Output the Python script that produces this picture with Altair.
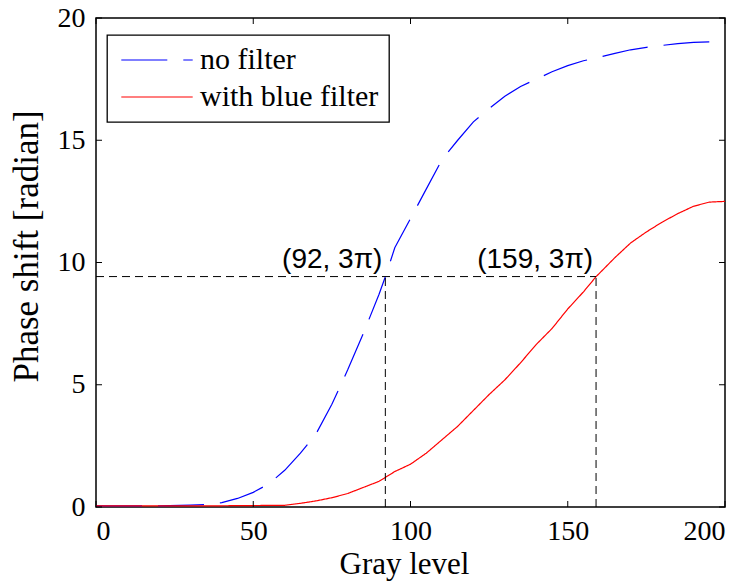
import math
import altair as alt
import pandas as pd

# ---- data ----
blue_g = [0, 10, 20, 30, 35, 40, 45, 50, 55, 60, 65, 70, 75, 80, 85, 90, 92, 95,
          100, 105, 110, 115, 120, 125, 130, 135, 140, 145, 150, 155, 160, 165,
          170, 175, 180, 185, 190, 195]
blue_v = [0.05, 0.05, 0.05, 0.08, 0.1, 0.18, 0.35, 0.6, 0.95, 1.5, 2.2, 3.0, 4.2,
          5.6, 7.1, 8.7, 9.42, 10.6, 11.8, 13.0, 14.2, 15.0, 15.75, 16.3, 16.8,
          17.2, 17.5, 17.8, 18.05, 18.25, 18.4, 18.55, 18.7, 18.8, 18.88, 18.95,
          19.0, 19.02]
red_g = [0, 20, 40, 60, 65, 70, 75, 80, 85, 90, 95, 100, 105, 110, 115, 120, 125,
         130, 135, 140, 145, 150, 155, 159, 165, 170, 175, 180, 185, 190, 195, 200]
red_v = [0.05, 0.05, 0.05, 0.07, 0.15, 0.25, 0.38, 0.55, 0.8, 1.05, 1.45, 1.75,
         2.2, 2.75, 3.3, 3.95, 4.6, 5.2, 5.9, 6.65, 7.3, 8.1, 8.8, 9.42, 10.2,
         10.8, 11.25, 11.65, 12.0, 12.3, 12.47, 12.5]
series_names = ["no filter", "with blue filter"]
series_colors = ["#0000ff", "#ff0000"]

mark_g = [92, 159]
mark_labels = ["(92, 3π)", "(159, 3π)"]
mark_v = 3 * math.pi

x_ticks = [0, 50, 100, 150, 200]
y_ticks = [0, 5, 10, 15, 20]

W, H = 629, 489
SERIF = "Liberation Serif, Times New Roman, serif"

df = pd.DataFrame({
    "g": blue_g + red_g,
    "v": blue_v + red_v,
    "series": [series_names[0]] * len(blue_g) + [series_names[1]] * len(red_g),
})
df_mark = pd.DataFrame({"g": mark_g, "label": mark_labels, "v": [mark_v] * len(mark_g), "v0": [0] * len(mark_g)})
df_h = pd.DataFrame({"g0": [0], "g1": [max(mark_g)], "v": [mark_v]})
df_xt = pd.DataFrame({"t": x_ticks})
df_yt = pd.DataFrame({"t": y_ticks})

xs = alt.Scale(domain=[0, 200], nice=False, zero=False)
ys = alt.Scale(domain=[0, 20], nice=False, zero=False)

x_axis = alt.Axis(values=x_ticks, ticks=False, domain=False, grid=False,
                  labelFont=SERIF, labelFontSize=28, labelColor="black", labelPadding=10,
                  title="Gray level", titleFont=SERIF, titleFontSize=31, titleColor="black",
                  titleBaseline="alphabetic", titleY=66, titleX=308, titleFontWeight="normal")
y_axis = alt.Axis(values=y_ticks, ticks=False, domain=False, grid=False,
                  labelFont=SERIF, labelFontSize=28, labelColor="black", labelPadding=11,
                  title="Phase shift [radian]", titleFont=SERIF, titleFontSize=35, titleColor="black",
                  titleBaseline="alphabetic", titleX=-59, titleY=228, titleAngle=270,
                  titleAlign="center", titleFontWeight="normal")


def X(field):
    return alt.X(field, scale=xs, axis=x_axis, title="Gray level")


def Y(field):
    return alt.Y(field, scale=ys, axis=y_axis, title="Phase shift [radian]")


leg = alt.Legend(title=None, orient="none", legendX=11, legendY=17,
                 symbolType="M-2.55,0H2.55", symbolSize=784, symbolStrokeWidth=1.2,
                 symbolOffset=25, labelOffset=28,
                 labelFont=SERIF, labelFontSize=30, labelColor="black",
                 rowPadding=7, padding=10, labelLimit=500,
                 strokeColor="black", fillColor="white")

lines = alt.Chart(df).mark_line(strokeWidth=1.2).encode(
    x=X("g:Q"),
    y=Y("v:Q"),
    color=alt.Color("series:N", scale=alt.Scale(domain=series_names, range=series_colors), legend=leg),
    strokeDash=alt.StrokeDash("series:N", scale=alt.Scale(domain=series_names, range=[[46, 16], [1, 0]]), legend=leg),
)

hline = alt.Chart(df_h).mark_rule(color="black", strokeWidth=1, strokeDash=[8, 5]).encode(
    x=X("g0:Q"), x2="g1:Q", y=Y("v:Q"))
vlines = alt.Chart(df_mark).mark_rule(color="black", strokeWidth=1, strokeDash=[8, 5]).encode(
    x=X("g:Q"), y=Y("v0:Q"), y2="v:Q")
labels = alt.Chart(df_mark).mark_text(font="Liberation Sans", fontSize=28, align="right",
                                      baseline="alphabetic", dx=-3, dy=-9, color="black").encode(
    x=X("g:Q"), y=Y("v:Q"), text="label:N")

tick_len = 6
xt_bottom = alt.Chart(df_xt).mark_rule(color="black", strokeWidth=1).encode(
    x=X("t:Q"), y=alt.value(H), y2=alt.value(H - tick_len))
xt_top = alt.Chart(df_xt).mark_rule(color="black", strokeWidth=1).encode(
    x=X("t:Q"), y=alt.value(0), y2=alt.value(tick_len))
yt_left = alt.Chart(df_yt).mark_rule(color="black", strokeWidth=1).encode(
    y=Y("t:Q"), x=alt.value(0), x2=alt.value(tick_len))
yt_right = alt.Chart(df_yt).mark_rule(color="black", strokeWidth=1).encode(
    y=Y("t:Q"), x=alt.value(W), x2=alt.value(W - tick_len))

chart = alt.layer(lines, hline, vlines, labels, xt_bottom, xt_top, yt_left, yt_right).properties(
    width=W, height=H,
    autosize=alt.AutoSizeParams(type="none"),
    padding={"left": 96, "top": 18, "right": 30, "bottom": 78},
    background="white",
).configure_view(
    stroke="black", strokeWidth=1.5
).configure_axis(
    labelFont=SERIF, titleFont=SERIF
).configure_legend(
    strokeWidth=1.3, cornerRadius=0
)

chart.save("out.html", embed_options={"renderer": "svg", "actions": False})
